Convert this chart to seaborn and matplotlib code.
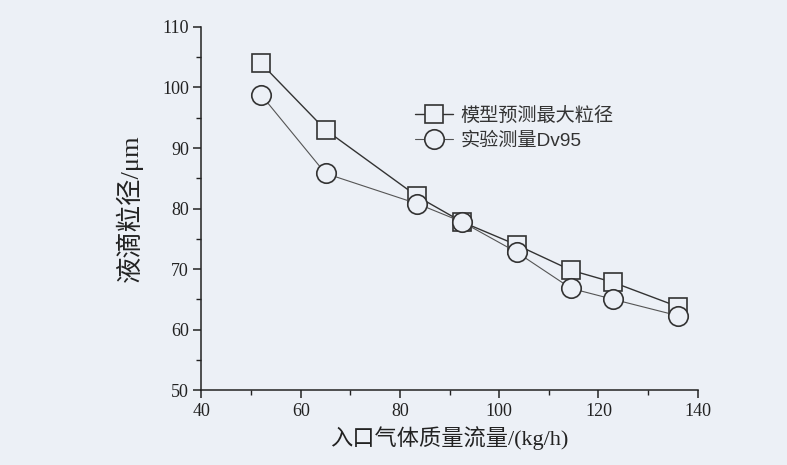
import matplotlib
matplotlib.use("Agg")
import matplotlib.pyplot as plt
import seaborn as sns
import pandas as pd
from matplotlib.ticker import MultipleLocator

# Data
flow = [52, 65, 83.5, 92.5, 103.5, 114.5, 123, 136]
model_max = [104, 93, 82, 77.8, 74, 69.8, 67.8, 63.8]
exp_dv95 = [98.8, 85.8, 80.8, 77.8, 72.8, 66.8, 65.0, 62.3]
series_names = ["模型预测最大粒径", "实验测量Dv95"]
xlabel = "入口气体质量流量/(kg/h)"
ylabel = "液滴粒径/μm"

sns.set_theme(style="ticks")
plt.rcParams['font.family'] = ['Liberation Serif', 'Noto Sans CJK SC']

bg = "#ecf0f6"
fig = plt.figure(figsize=(7.87, 4.65), dpi=100, facecolor=bg)
ax = fig.add_axes([0.256, 0.161, 0.6305, 0.781])
ax.set_facecolor(bg)

df1 = pd.DataFrame({"x": flow, "y": model_max})
df2 = pd.DataFrame({"x": flow, "y": exp_dv95})

sns.lineplot(data=df1, x="x", y="y", ax=ax, color="#333333", lw=1.0,
             marker="s", markersize=12.5, markerfacecolor=bg,
             markeredgecolor="#333333", markeredgewidth=1.2,
             label=series_names[0])
sns.lineplot(data=df2, x="x", y="y", ax=ax, color="#555555", lw=0.8,
             marker="o", markersize=14, markerfacecolor=bg,
             markeredgecolor="#333333", markeredgewidth=1.2,
             label=series_names[1])

ax.set_xlim(40, 140)
ax.set_ylim(50, 110)
ax.xaxis.set_major_locator(MultipleLocator(20))
ax.xaxis.set_minor_locator(MultipleLocator(10))
ax.yaxis.set_major_locator(MultipleLocator(10))
ax.yaxis.set_minor_locator(MultipleLocator(5))

for s in ["top", "right"]:
    ax.spines[s].set_visible(False)
for s in ["left", "bottom"]:
    ax.spines[s].set_color("#222222")
    ax.spines[s].set_linewidth(1.1)

ax.tick_params(which="major", direction="out", length=6, width=1.1,
               color="#222222", labelsize=13, labelcolor="#222222", pad=3)
ax.tick_params(which="minor", direction="out", length=3.5, width=1.0,
               color="#222222")

ax.set_xlabel(xlabel, fontsize=16, color="#222222", labelpad=5)
ax.set_ylabel(ylabel, fontsize=19, color="#222222", labelpad=14)

leg = ax.legend(loc="upper left", bbox_to_anchor=(0.395, 0.828), frameon=False,
                prop={"family": ["Liberation Sans", "Noto Sans CJK SC"], "size": 13.8},
                handlelength=2.0, handletextpad=0.4, labelspacing=0.4,
                labelcolor="#333333")

fig.savefig("out.png", dpi=100, facecolor=bg)
